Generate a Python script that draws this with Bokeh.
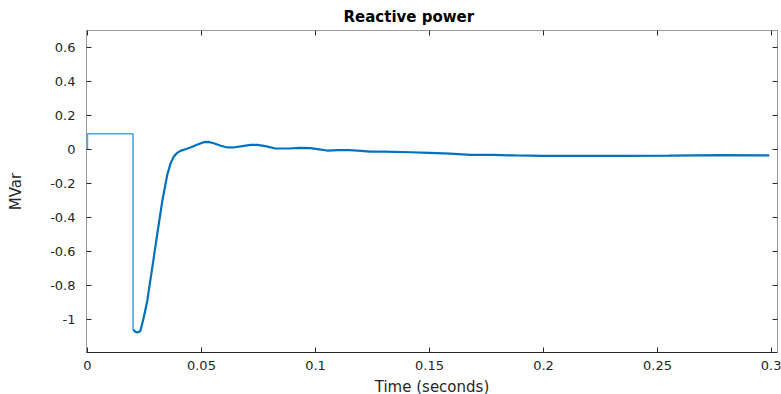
from bokeh.plotting import figure
from bokeh.models import Range1d, FixedTicker, CustomJSTickFormatter, LinearAxis
from bokeh.embed import file_html
from bokeh.resources import INLINE

# Pre-fault segment (light blue)
t_pre = [0.0, 0.0, 0.0200, 0.0200]
q_pre = [0.0, 0.093, 0.093, -1.059]

# Main response (dark blue)
t_main = [0.0200, 0.0210, 0.0220, 0.0232, 0.0245, 0.0262, 0.0284, 0.0306, 0.0328, 0.0350,
          0.0365, 0.0379, 0.0393, 0.0408, 0.0430, 0.0452, 0.0480, 0.0510, 0.0530, 0.0554,
          0.0585, 0.0613, 0.0640, 0.0680, 0.0715, 0.0745, 0.0780, 0.0825, 0.0880, 0.0934,
          0.0978, 0.1010, 0.1050, 0.1100, 0.1150, 0.1200, 0.1240, 0.1300, 0.1417, 0.1500,
          0.1590, 0.1680, 0.1780, 0.1880, 0.2000, 0.2150, 0.2340, 0.2550, 0.2780, 0.2990]
q_main = [-1.059, -1.072, -1.076, -1.068, -1.000, -0.894, -0.698, -0.500, -0.306, -0.149,
          -0.080, -0.041, -0.020, -0.008, 0.002, 0.012, 0.028, 0.043, 0.045, 0.037,
          0.022, 0.012, 0.012, 0.020, 0.027, 0.027, 0.020, 0.006, 0.006, 0.010,
          0.008, 0.002, -0.006, -0.004, -0.004, -0.008, -0.012, -0.012, -0.016, -0.020,
          -0.024, -0.031, -0.032, -0.035, -0.038, -0.037, -0.037, -0.036, -0.033, -0.035]

x_ticks = [0, 0.05, 0.1, 0.15, 0.2, 0.25, 0.3]
y_ticks = [-1, -0.8, -0.6, -0.4, -0.2, 0, 0.2, 0.4, 0.6]

FONT = "DejaVu Sans"
fmt = CustomJSTickFormatter(code="return (Math.round(tick*100)/100).toString();")
blank = CustomJSTickFormatter(code="return '';")

p = figure(frame_width=691, frame_height=322, output_backend="svg", toolbar_location=None,
           x_range=Range1d(-0.0004, 0.3026), y_range=Range1d(-1.194, 0.7),
           min_border_left=86, min_border_right=4, min_border_top=29, min_border_bottom=43,
           x_axis_location=None, y_axis_location=None)
p.title.text = "Reactive power"
p.title.text_font = FONT
p.title.text_font_size = "15px"
p.title.text_font_style = "bold"
p.title.align = "left"
p.title.offset = 257
p.title.text_color = "#000000"
p.grid.visible = False
p.outline_line_color = "#999999"
p.background_fill_color = "white"
p.border_fill_color = "white"

def make_axis(ticks, label, show_labels, line_color):
    ax = LinearAxis(ticker=FixedTicker(ticks=ticks), formatter=fmt if show_labels else blank)
    ax.axis_label = label
    ax.major_tick_in = 5
    ax.major_tick_out = 0
    ax.minor_tick_line_color = None
    ax.major_tick_line_color = "#262626"
    ax.axis_line_color = line_color
    ax.major_label_text_font = FONT
    ax.major_label_text_color = "#262626"
    ax.major_label_text_font_size = "13px"
    ax.axis_label_text_font = FONT
    ax.axis_label_text_font_style = "normal"
    ax.axis_label_text_color = "#262626"
    ax.axis_label_text_font_size = "15px"
    if not show_labels:
        ax.major_label_standoff = 0
    return ax

xb = make_axis(x_ticks, "Time (seconds)", True, "#262626")
xb.major_label_standoff = 8
xb.axis_label_standoff = 5
p.add_layout(xb, "below")
yl = make_axis(y_ticks, "MVar", True, "#999999")
yl.major_label_standoff = 11
yl.axis_label_standoff = 22
p.add_layout(yl, "left")
xt = make_axis(x_ticks, None, False, "#999999")
p.add_layout(xt, "above")
yr = make_axis(y_ticks, None, False, "#999999")
p.add_layout(yr, "right")

p.line(t_pre, q_pre, line_color="#4DA3DC", line_width=1.6)
p.line(t_main, q_main, line_color="#0072BD", line_width=2.2)

open("out.html", "w").write(file_html(p, INLINE))
